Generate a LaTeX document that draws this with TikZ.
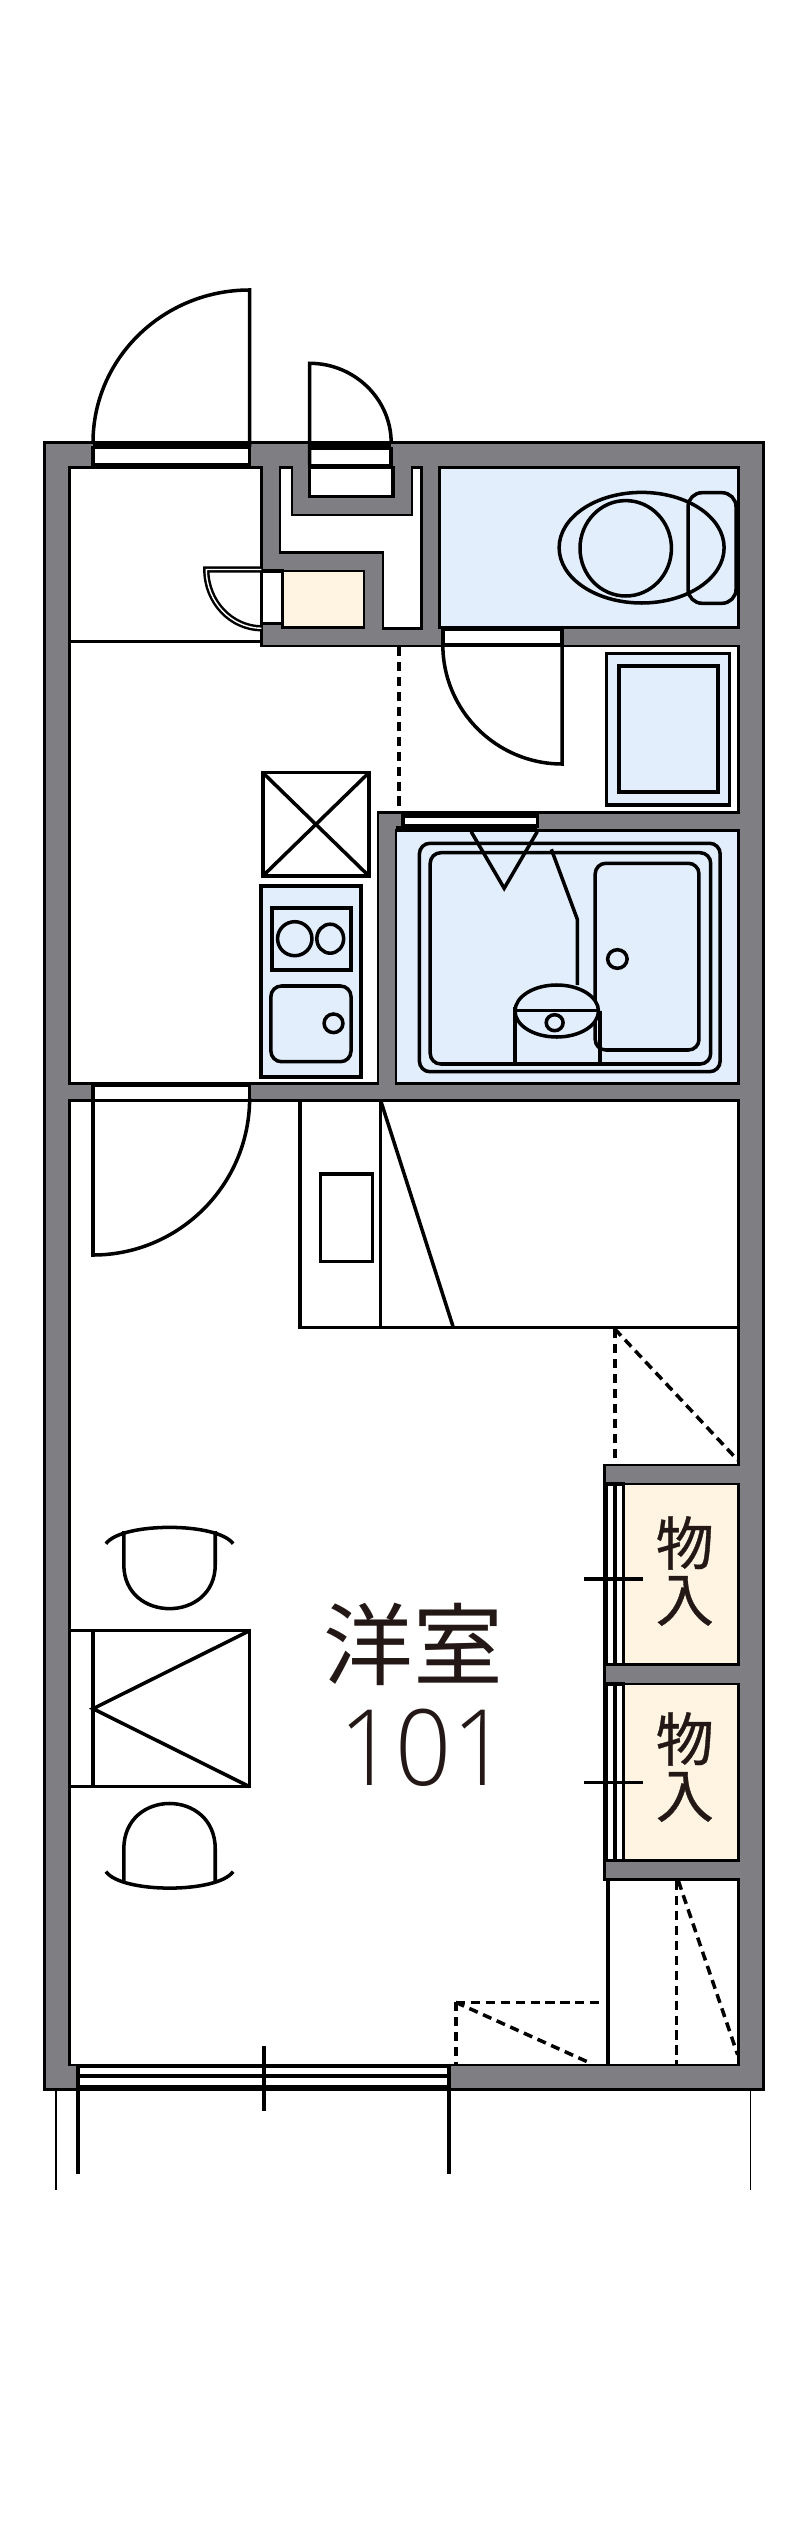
\documentclass[tikz,border=0pt]{standalone}
\usepackage{fontspec}
\newfontfamily\cjkfont{Noto Sans CJK JP}
\newfontfamily\cjkheavyfont[FakeBold=0.6]{Noto Sans CJK JP}
\newfontfamily\numfont{Open Sans Light}
\definecolor{wallgray}{HTML}{7F7E83}
\definecolor{roomblue}{HTML}{E3EEFC}
\definecolor{roomcream}{HTML}{FFF4E1}
\definecolor{inkblack}{HTML}{231815}
\tikzset{
	wall line/.style = {line width = 0.7pt, black},
	main line/.style = {line width = 1pt, black},
	heavy line/.style = {line width = 1.15pt, black},
	thin line/.style = {line width = 0.4pt, black},
	dash line/.style = {line width = 1pt, black, dash pattern = on 2.6pt off 1.65pt},
	round box/.style = {main line, rounded corners = 3pt},
	storage text/.style = {inner sep = 0pt, text = inkblack, align = center, font = \cjkheavyfont\fontsize{16.5}{16}\selectfont}
}
\begin{document}
\begin{tikzpicture}[x = 0.00994cm, y = -0.01cm]
	\useasboundingbox (-0.57,0) rectangle (804.3,2531);
	
	% walls and rooms
	\draw[wall line, fill = wallgray] (44.2,442.7) rectangle (767.7,2089.3);
	\draw[wall line, fill = white] (69.4,467.3) -- (262.5,467.3) -- (262.5,646) -- (742.5,646) -- (742.5,812.7) -- (380,812.7) -- (380,1083.3) -- (69.4,1083.3) -- cycle;
	\draw[wall line, fill = white] (69.4,1100.7) -- (742.5,1100.7) -- (742.5,1465) -- (607.8,1465) -- (607.8,1879.7) -- (742.5,1879.7) -- (742.5,2065) -- (69.4,2065) -- cycle;
	\draw[wall line, fill = white] (281.4,467.3) -- (293,467.3) -- (293,515) -- (414,515) -- (414,467.3) -- (423.7,467.3) -- (423.7,628.3) -- (385,628.3) -- (385,552.7) -- (281.4,552.7) -- cycle;
	\draw[wall line, fill = roomblue] (441.8,467.3) rectangle (742.5,627.3);
	\draw[wall line, fill = roomblue] (397.6,830.7) rectangle (742.5,1083.3);
	\draw[wall line, fill = roomcream] (283.8,571) rectangle (365.9,627.3);
	\draw[wall line, fill = roomcream] (626.8,1484) rectangle (742.5,1664.5);
	\draw[wall line, fill = roomcream] (626.8,1684) rectangle (742.5,1860.5);
	\draw[main line] (69.4,641.7) -- (262.5,641.7);
	
	% entrance door
	\draw[main line, fill = white] (93,447.7) rectangle (250.6,465);
	\draw[heavy line] (93,445) -- (250.6,445);
	\draw[main line] (93,442.7) .. controls (93,358) and (164,290) .. (250.6,290) -- (250.6,447);
	
	% meter door
	\draw[main line, fill = white] (311,448.3) rectangle (393,465.7);
	\draw[main line, fill = white] (311,467.3) rectangle (395,496.7);
	\draw[heavy line] (311,445) -- (393,445);
	\draw[main line] (393,442.7) .. controls (393,399) and (356,363.3) .. (311,363.3) -- (311,465);
	
	% closet door
	\draw[main line, fill = white] (262.5,571) rectangle (283.8,623.3);
	\draw[wall line, double = white, double distance = 0.4pt] (262.5,569.5) -- (207,569.5) .. controls (207,602) and (232,628) .. (262.5,628.3);
	
	% toilet
	\draw[main line] (645,547.7) ellipse [x radius = 83, y radius = 55.3];
	\draw[main line] (629,548.3) ellipse [x radius = 46, y radius = 47.7];
	\draw[main line, rounded corners = 4pt] (691.7,492.7) rectangle (740,603.3);
	
	% toilet door
	\draw[main line, fill = white] (445,629.3) rectangle (565,645);
	\draw[main line] (445,645) .. controls (445,710.5) and (499,764) .. (565,764) -- (565,629.3);
	
	% basin
	\draw[main line, fill = roomblue] (609.7,653.3) rectangle (733.5,805);
	\draw[heavy line, fill = roomblue] (622,665.7) rectangle (721.6,792.3);
	
	\draw[dash line] (401,647) -- (401,812);
	
	% kitchen
	\draw[main line] (263.9,772.7) rectangle (370.6,876);
	\draw[main line] (263.9,772.7) -- (370.6,876);
	\draw[main line] (370.6,772.7) -- (263.9,876);
	\draw[heavy line, fill = roomblue] (262.4,886) rectangle (363,1077.3);
	\draw[heavy line] (272.9,908.3) rectangle (352.6,970);
	\draw[main line] (296,938.7) ellipse [x radius = 17.3, y radius = 17];
	\draw[main line] (331.7,938.7) ellipse [x radius = 13.5, y radius = 14.5];
	\draw[round box] (272,986) rectangle (352.6,1061.7);
	\draw[main line] (335,1023.3) ellipse [x radius = 9.5, y radius = 9.3];
	
	% bath
	\draw[main line, fill = white] (404.8,816) rectangle (540,826);
	\draw[heavy line] (397.6,828.5) -- (540,828.5);
	\draw[round box] (421.4,843.3) rectangle (724,1071.7);
	\draw[round box] (432.3,852.7) rectangle (714.5,1064);
	\draw[round box] (598.3,863.3) rectangle (702.7,1050);
	\draw[main line] (620.6,959) ellipse [x radius = 9.8, y radius = 9.3];
	\draw[main line] (473.5,831.7) -- (506.7,888.3) -- (540,831.7);
	\draw[main line] (554.2,849.3) -- (580.3,919.3) -- (580.3,985);
	\draw[main line, fill = roomblue] (559.6,1011) ellipse [x radius = 42, y radius = 26];
	\draw[main line] (517.7,1006.7) -- (517.7,1062);
	\draw[main line] (603,1010.7) -- (603,1062);
	\draw[main line] (517.7,1010.7) -- (603,1010.7);
	\draw[main line] (557.5,1022.7) ellipse [x radius = 8.5, y radius = 8];
	
	% room door
	\draw[main line, fill = white] (93,1085) rectangle (250.6,1100.7);
	\draw[main line] (250.6,1098) .. controls (250.6,1185) and (179.4,1255) .. (93,1255) -- (93,1098);
	
	% counter
	\draw[main line] (301.3,1100.7) -- (301.3,1327.3) -- (742.5,1327.3);
	\draw[main line] (382.5,1100.7) -- (382.5,1327.3);
	\draw[main line] (382.5,1100.7) -- (455.5,1327.3);
	\draw[main line] (321.7,1174) rectangle (374,1261.7);
	\draw[dash line] (618,1329) -- (618,1465);
	\draw[dash line] (618,1329) -- (741.6,1460);
	
	% storage
	\draw[main line, fill = white] (609.7,1484) rectangle (618.2,1664.5);
	\draw[main line, fill = white] (618.2,1484) rectangle (626.8,1664.5);
	\draw[main line, fill = white] (609.7,1684) rectangle (618.2,1860.5);
	\draw[main line, fill = white] (618.2,1684) rectangle (626.8,1860.5);
	\draw[main line] (587.4,1579) -- (646.7,1579);
	\draw[main line] (587.4,1782.7) -- (646.7,1782.7);
	\node[storage text] (storageA) at (688.4,1571) {物\\入};
	\node[storage text] (storageB) at (688.4,1767) {物\\入};
	
	% lower corner
	\draw[main line] (611,1879.7) -- (611,2065);
	\draw[dash line] (680,1881) -- (680,2065);
	\draw[dash line] (682,1881) -- (741.6,2054.7);
	\draw[dash line] (458,2002.3) -- (608,2002.3);
	\draw[dash line] (458,2002.3) -- (458,2064);
	\draw[dash line] (458,2002.3) -- (594.5,2063.6);
	
	% desk and chairs
	\draw[main line] (69.4,1630.7) rectangle (250.6,1786.7);
	\draw[main line] (93,1630.7) -- (93,1786.7);
	\draw[main line] (250.6,1630.7) -- (93,1708.7) -- (250.6,1786.7);
	\draw[main line] (106,1543.7) .. controls (122,1521.9) and (218,1521.9) .. (234,1543.7);
	\draw[main line] (124,1531) -- (124,1564.6) .. controls (124,1623.3) and (216,1623.3) .. (216,1564.6) -- (216,1531);
	\draw[main line] (106,1871.6) .. controls (122,1893.6) and (218,1893.6) .. (234,1871.6);
	\draw[main line] (124,1881.7) -- (124,1849) .. controls (124,1788.3) and (216,1788.3) .. (216,1849) -- (216,1881.7);
	
	% balcony window
	\draw[white, fill = white] (78,2066.5) rectangle (451,2088);
	\draw[heavy line] (77.6,2065) -- (77.6,2174);
	\draw[heavy line] (451,2065) -- (451,2174);
	\draw[heavy line] (77.6,2066) -- (451,2066);
	\draw[heavy line] (77.6,2075.7) -- (451,2075.7);
	\draw[heavy line] (77.6,2087) -- (451,2087);
	\draw[main line] (264.8,2045.7) -- (264.8,2111);
	\draw[thin line] (55.8,2089.3) -- (55.8,2190.3);
	\draw[thin line] (754.4,2089.3) -- (754.4,2190.3);
	
	\node[inner sep = 0pt, text = inkblack, font = \cjkfont\fontsize{25.5}{26}\selectfont] (roomname) at (415,1644) {洋室};
	\node[inner sep = 0pt, text = inkblack, font = \numfont\fontsize{30}{30}\selectfont, xscale = 0.93, transform shape] (roomnumber) at (426,1747.5) {101};
\end{tikzpicture}
\end{document}
